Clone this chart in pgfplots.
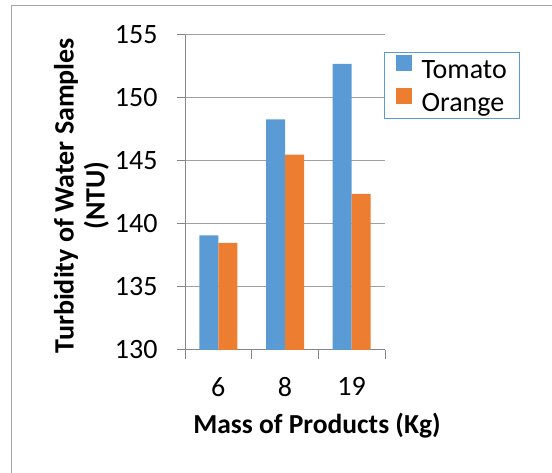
\documentclass[border=0pt]{standalone}
\usepackage{fontspec}
\setmainfont{Carlito}
\usepackage{pgfplots}
\pgfplotsset{compat=1.18}
\definecolor{cblue}{HTML}{5B9BD5}
\definecolor{corange}{HTML}{ED7D31}
\definecolor{axgray}{HTML}{868686}
\definecolor{grdgray}{HTML}{A0A0A0}
\definecolor{framegray}{HTML}{A6A6A6}
\begin{document}
\begin{tikzpicture}[x=1bp,y=1bp]
\useasboundingbox (0,0) rectangle (552,473);
\draw[framegray, line width=1bp] (11,467) rectangle (600,-50);
\begin{axis}[
  at={(185bp,123bp)}, anchor=south west,
  scale only axis, width=200bp, height=315bp,
  ybar=0pt, bar width=19bp,
  xmin=0.5, xmax=3.5, ymin=130, ymax=155,
  xtick={1,2,3}, xticklabels={6,8,19},
  minor xtick={0.5,1.5,2.5,3.5},
  ytick={130,135,...,155},
  axis x line*=bottom, axis y line*=left,
  axis line style={axgray, line width=1bp},
  tick align=outside,
  major tick length=8bp, minor tick length=9bp,
  major x tick style={draw=none},
  minor x tick style={axgray, line width=1bp},
  major y tick style={axgray, line width=1bp},
  ymajorgrids, grid style={grdgray, line width=1bp},
  /pgf/number format/assume math mode=true,
  tick label style={font=\fontsize{28bp}{32bp}\selectfont, text=black},
  xticklabel style={yshift=-16bp},
  yticklabel style={xshift=-16bp},
  xlabel={Mass of Products (Kg)},
  ylabel={Turbidity of Water Samples\\(NTU)},
  xlabel style={font=\bfseries\fontsize{27.5bp}{31bp}\selectfont, at={(axis description cs:0.66,-0.24)}, anchor=center},
  ylabel style={font=\bfseries\fontsize{28bp}{31bp}\selectfont, align=center, at={(axis description cs:-0.5175,0.49)}, anchor=center},
  legend style={at={(1,1)}, anchor=north west, xshift=-1bp, yshift=-17bp,
    draw=cblue, line width=1bp, font=\fontsize{28bp}{32bp}\selectfont,
    inner xsep=11bp, inner ysep=3bp, row sep=6bp,
    /tikz/every odd column/.append style={column sep=8bp}},
  legend cell align=left,
  legend image code/.code={\fill[#1,draw=none] (0bp,-1bp) rectangle (16bp,15bp);},
]
\addplot[fill=cblue, draw=none] coordinates {(1,139.1) (2,148.3) (3,152.7)};
\addplot[fill=corange, draw=none] coordinates {(1,138.5) (2,145.5) (3,142.4)};
\legend{Tomato, Orange}
\end{axis}
\end{tikzpicture}
\end{document}
